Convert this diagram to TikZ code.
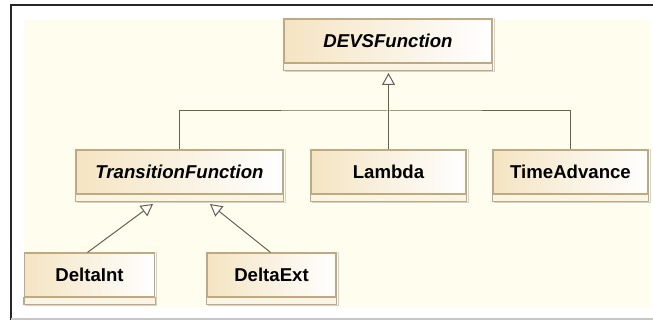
\documentclass[tikz,border=0pt]{standalone}
\usepackage{fontspec}
\setmainfont{Liberation Sans}
\usetikzlibrary{arrows.meta}
\definecolor{bgyellow}{RGB}{255,254,238}
\definecolor{boxborder}{RGB}{190,170,128}
\definecolor{boxleft}{RGB}{244,228,194}
\definecolor{bandfill}{RGB}{250,244,228}
\definecolor{wire}{RGB}{105,95,75}
\tikzset{
  umlbox/.style={draw=boxborder, line width=1.2pt, left color=boxleft, right color=white,
    minimum height=44pt, inner sep=0pt, font=\fontsize{18.6}{21}\selectfont\bfseries},
  abstractbox/.style={umlbox, font=\fontsize{18.6}{21}\selectfont\bfseries\itshape},
  bandbox/.style={draw=boxborder, line width=1.2pt, fill=bandfill},
  wireline/.style={draw=wire, line width=1pt},
  inherit/.style={wireline, -{Triangle[open, width=13pt, length=12pt, fill=white]}}
}
\newcommand{\umlband}[1]{%
  \draw[bandbox] (#1.south west) rectangle ([yshift=-7pt]#1.south east);
  \draw[gray!35, line width=0.8pt] ([xshift=1.5pt,yshift=-8pt]#1.south west) -- ([xshift=1.5pt,yshift=-8pt]#1.south east) -- ([xshift=1.5pt,yshift=0pt]#1.north east);
}
\begin{document}
\begin{tikzpicture}[x=1pt,y=-1pt]
\useasboundingbox (0,0) rectangle (653,320);
% outer frame and background
\draw[black!85, line width=2pt] (11,320) -- (11,5) -- (653,5);
\draw[gray!45, line width=1.5pt] (11,319) -- (653,319);
\fill[bgyellow] (24,20) rectangle (650,307);
% boxes
\node[abstractbox, minimum width=208pt] (devs) at (388,41) {DEVSFunction};
\umlband{devs}
\node[abstractbox, minimum width=207pt] (trans) at (179.5,172) {TransitionFunction};
\umlband{trans}
\node[umlbox, minimum width=155pt] (lambda) at (388.5,172) {Lambda};
\umlband{lambda}
\node[umlbox, minimum width=155pt] (time) at (570.5,172) {TimeAdvance};
\umlband{time}
\node[umlbox, minimum width=130pt] (dint) at (89.5,275) {DeltaInt};
\umlband{dint}
\node[umlbox, minimum width=129pt] (dext) at (271.5,275) {DeltaExt};
\umlband{dext}
% connector anchor points
\coordinate (devsTip) at (388.5,73);
\coordinate (join) at (388.5,111);
\coordinate (transTipA) at (153,204);
\coordinate (transTipB) at (210,204);
% connectors
\draw[wireline] (trans.north) |- (join) -| (time.north);
\draw[inherit] (lambda.north) -- (devsTip);
\draw[inherit] ([xshift=-2pt]dint.north) -- (transTipA);
\draw[inherit] ([xshift=-1pt]dext.north) -- (transTipB);
\end{tikzpicture}
\end{document}
